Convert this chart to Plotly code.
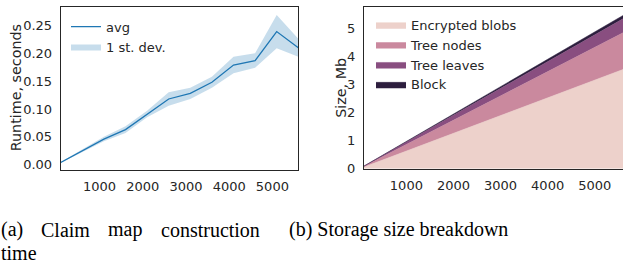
import plotly.graph_objects as go

# ---- data ----
claims = [100, 600, 1100, 1600, 2100, 2600, 3100, 3600, 4100, 4600, 5100, 5600]
runtime_avg = [0.004, 0.025, 0.046, 0.063, 0.091, 0.118, 0.128, 0.148, 0.179, 0.187, 0.239, 0.210]
runtime_std = [0.001, 0.003, 0.004, 0.006, 0.006, 0.012, 0.010, 0.010, 0.015, 0.013, 0.030, 0.016]

size_blobs = [0.063, 0.38, 0.70, 1.01, 1.33, 1.65, 1.97, 2.28, 2.60, 2.92, 3.23, 3.55]
size_nodes = [0.023, 0.14, 0.26, 0.37, 0.49, 0.61, 0.73, 0.84, 0.96, 1.08, 1.19, 1.31]
size_leaves = [0.009, 0.054, 0.098, 0.14, 0.19, 0.23, 0.28, 0.32, 0.37, 0.41, 0.46, 0.50]
size_block = [0.002, 0.013, 0.024, 0.034, 0.045, 0.056, 0.066, 0.077, 0.088, 0.099, 0.11, 0.12]

x_ticks = [1000, 2000, 3000, 4000, 5000]
runtime_ticks = [0.00, 0.05, 0.10, 0.15, 0.20, 0.25]
size_ticks = [0, 1, 2, 3, 4, 5]

W, H = 623, 266
INK = "#262626"
SANS = "DejaVu Sans"
SERIF = "Liberation Serif"

upper = [a + s for a, s in zip(runtime_avg, runtime_std)]
lower = [a - s for a, s in zip(runtime_avg, runtime_std)]

fig = go.Figure()

# ---- left: runtime ----
fig.add_trace(go.Scatter(x=claims, y=runtime_avg, mode="lines", name="avg",
                         line=dict(color="#1f77b4", width=1.3),
                         xaxis="x", yaxis="y", legend="legend"))
fig.add_trace(go.Scatter(x=claims, y=upper, mode="lines", line=dict(width=0),
                         showlegend=False, hoverinfo="skip", xaxis="x", yaxis="y"))
fig.add_trace(go.Scatter(x=claims, y=lower, mode="lines", line=dict(width=0),
                         fill="tonexty", fillcolor="rgba(31,119,180,0.25)",
                         name="1 st. dev.", xaxis="x", yaxis="y", legend="legend"))

# ---- right: storage ----
layers = [("Encrypted blobs", size_blobs, "#edd1cb"),
          ("Tree nodes", size_nodes, "#ca899e"),
          ("Tree leaves", size_leaves, "#894e80"),
          ("Block", size_block, "#2d1e3e")]
for name, vals, col in layers:
    fig.add_trace(go.Scatter(x=claims, y=vals, mode="lines", name=name,
                             stackgroup="s", line=dict(width=0.5, color=col),
                             fillcolor=col, xaxis="x2", yaxis="y2", legend="legend2"))

axis_common = dict(showgrid=False, zeroline=False, showline=True, linecolor=INK,
                   linewidth=1, ticks="", tickfont=dict(family=SANS, size=13, color=INK),
                   ticklabelstandoff=5)

fig.update_layout(
    width=W, height=H, margin=dict(l=0, r=0, t=0, b=0),
    paper_bgcolor="white", plot_bgcolor="white",
    xaxis=dict(domain=[60.7 / W, 298.3 / W], range=[100, 5600], tickvals=x_ticks,
               mirror=True, anchor="y", **axis_common),
    yaxis=dict(domain=[1 - 175 / H, 1 - 7.3 / H], range=[-0.009, 0.283],
               tickvals=runtime_ticks, tickformat=".2f", mirror=True, anchor="x",
               **axis_common),
    xaxis2=dict(domain=[364 / W, 1.0], range=[100, 5600], tickvals=x_ticks,
                mirror=True, anchor="y2", **axis_common),
    yaxis2=dict(domain=[1 - 174 / H, 1 - 7.3 / H], range=[0, 5.78],
                tickvals=size_ticks, mirror=False, anchor="x2", **axis_common),
    legend=dict(x=66 / W, y=1 - 12 / H, xanchor="left", yanchor="top",
                bgcolor="rgba(0,0,0,0)", font=dict(family=SANS, size=13, color=INK),
                traceorder="normal", tracegroupgap=0),
    legend2=dict(x=371 / W, y=1 - 10 / H, xanchor="left", yanchor="top",
                 bgcolor="rgba(0,0,0,0)", font=dict(family=SANS, size=13, color=INK),
                 traceorder="normal", tracegroupgap=0),
    showlegend=True,
)

annotations = [
    dict(text="Runtime, seconds", x=16 / W, y=1 - 91 / H, textangle=-90),
    dict(text="Size, Mb", x=341.5 / W, y=1 - 91 / H, textangle=-90),
]
for a in annotations:
    a.update(xref="paper", yref="paper", showarrow=False, xanchor="center",
             yanchor="middle", font=dict(family=SANS, size=14.3, color=INK))
    fig.add_annotation(**a)

cap_font = dict(family=SERIF, size=20, color="black")
caption_words = [("(a)", 0, 237), ("Claim", 40, 237), ("map", 107, 237),
                 ("construction", 160, 237), ("time", 0, 260.5),
                 ("(b) Storage size breakdown", 288, 237)]
for txt, xx, yy in caption_words:
    fig.add_annotation(text=txt, x=xx / W, y=1 - yy / H, xref="paper", yref="paper",
                       showarrow=False, xanchor="left", yanchor="middle", font=cap_font,
                       borderpad=0)

fig.write_html("out.html", config={"displayModeBar": False},
               post_script="document.body.style.margin='0';document.body.style.overflow='hidden';")
